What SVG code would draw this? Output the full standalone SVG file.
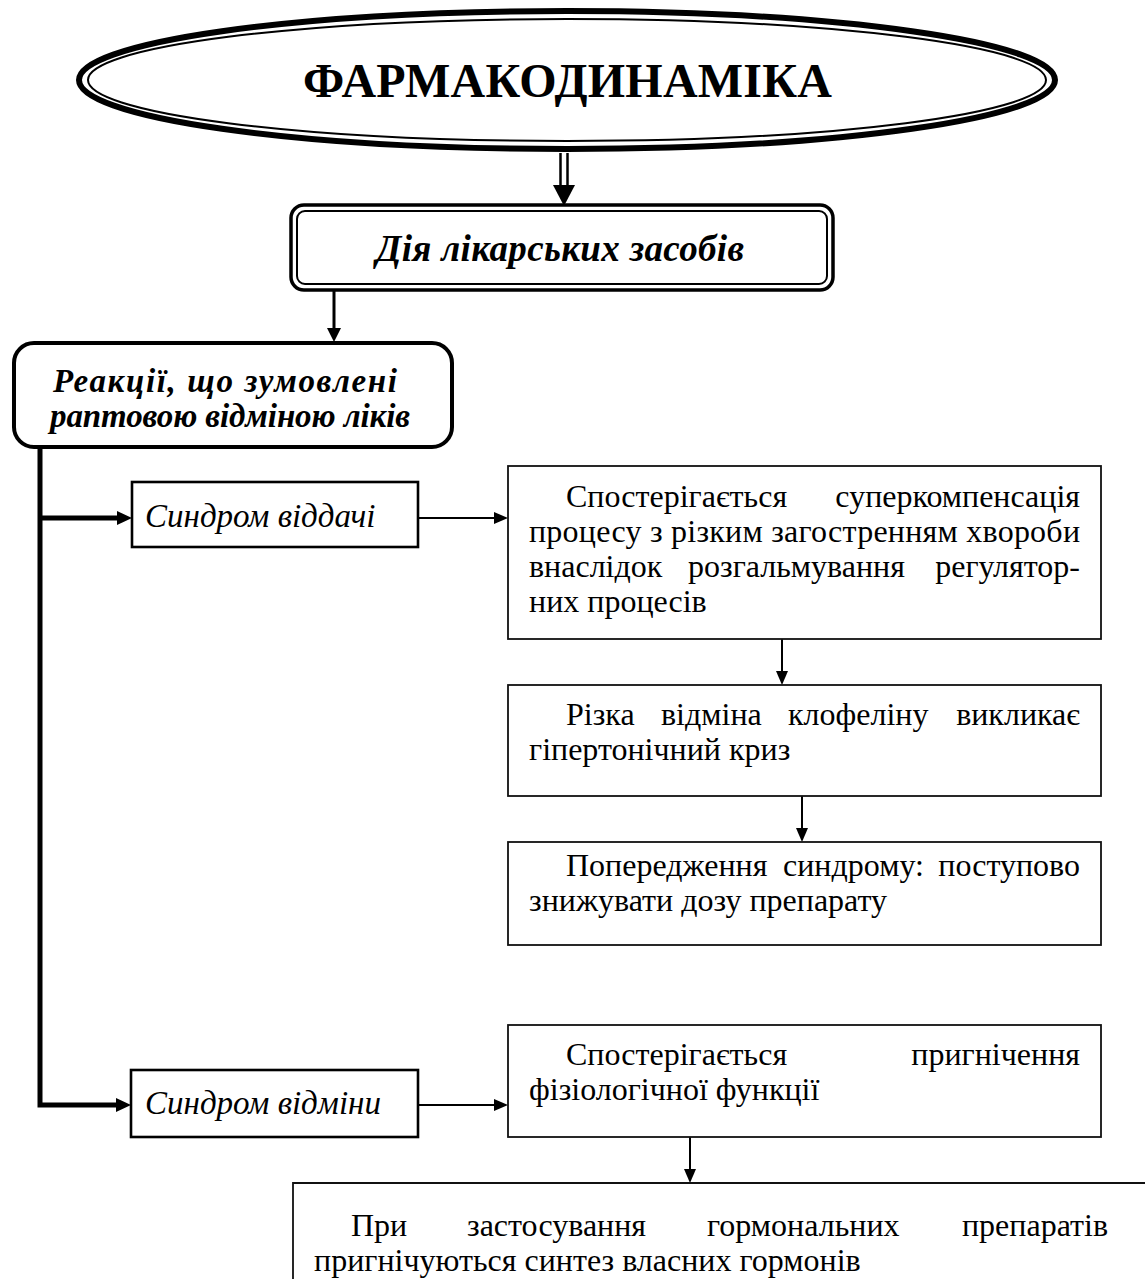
<svg xmlns="http://www.w3.org/2000/svg" width="1145" height="1279" viewBox="0 0 1145 1279">
  <style>
    .t { font-family: "Liberation Serif", "Times New Roman", serif; fill: #000; }
    .body { font-size: 32px; }
    .end { text-anchor: end; }
    .it { font-style: italic; }
    .bi { font-style: italic; font-weight: bold; }
    .box { fill: #fff; stroke: #111; stroke-width: 1.8; }
    .syn { fill: #fff; stroke: #000; stroke-width: 2.6; }
    .thin { fill: none; stroke: #000; stroke-width: 2; }
    .mid { fill: none; stroke: #000; stroke-width: 3; }
    .thick { fill: none; stroke: #000; stroke-width: 5; stroke-linejoin: miter; }
  </style>
  <defs>
    <!-- arrowheads: base sits on the path end, tip points forward -->
    <marker id="headThin" viewBox="0 0 14 12" refX="0" refY="6" markerWidth="14" markerHeight="12" markerUnits="userSpaceOnUse" orient="auto">
      <path d="M0,0 L14,6 L0,12 Z" fill="#000"/>
    </marker>
    <marker id="headMid" viewBox="0 0 14 14" refX="0" refY="7" markerWidth="14" markerHeight="14" markerUnits="userSpaceOnUse" orient="auto">
      <path d="M0,0 L14,7 L0,14 Z" fill="#000"/>
    </marker>
    <marker id="headThick" viewBox="0 0 15 14" refX="0" refY="7" markerWidth="15" markerHeight="14" markerUnits="userSpaceOnUse" orient="auto">
      <path d="M0,0 L15,7 L0,14 Z" fill="#000"/>
    </marker>
  </defs>

  <rect width="1145" height="1279" fill="#fff"/>

  <!-- connectors -->
  <g id="connectors">
    <!-- double-shaft arrow from the title -->
    <g id="c-title-action">
      <line x1="560.5" y1="153" x2="560.5" y2="186" stroke="#000" stroke-width="2.5"/>
      <line x1="567.5" y1="153" x2="567.5" y2="186" stroke="#000" stroke-width="2.5"/>
      <path d="M553,185 L575,185 L564,206 Z" fill="#000"/>
    </g>
    <path id="c-action-reactions" class="mid" d="M334,291 V328" marker-end="url(#headMid)"/>
    <path id="c-trunk-withdrawal" class="thick" d="M40,448 V1105 H116" marker-end="url(#headThick)"/>
    <path id="c-trunk-rebound" class="thick" d="M40,518 H117" marker-end="url(#headThick)"/>
    <path id="c-rebound-a" class="thin" d="M418,518 H494" marker-end="url(#headThin)"/>
    <path id="c-withdrawal-e" class="thin" d="M418,1105 H494" marker-end="url(#headThin)"/>
    <path id="c-a-b" class="thin" d="M782,639 V671" marker-end="url(#headThin)"/>
    <path id="c-b-c" class="thin" d="M802,796 V828" marker-end="url(#headThin)"/>
    <path id="c-e-f" class="thin" d="M690,1137 V1169" marker-end="url(#headThin)"/>
  </g>

  <!-- title ellipse with thick-thin border -->
  <g id="n-title">
    <ellipse cx="567" cy="80" rx="488" ry="69" fill="#fff" stroke="#000" stroke-width="6"/>
    <ellipse cx="567" cy="80" rx="479" ry="61" fill="none" stroke="#000" stroke-width="2"/>
    <text class="t" x="567.5" y="97" font-size="48" font-weight="bold" text-anchor="middle" textLength="529">ФАРМАКОДИНАМІКА</text>
  </g>

  <!-- drug action box, double rounded border -->
  <g id="n-action">
    <rect x="291" y="205" width="542" height="85" rx="13" fill="#fff" stroke="#000" stroke-width="3.5"/>
    <rect x="297" y="211" width="530" height="73" rx="8" fill="none" stroke="#000" stroke-width="2"/>
    <text class="t bi" x="560" y="261" font-size="37" text-anchor="middle" textLength="368">Дія лікарських засобів</text>
  </g>

  <!-- withdrawal reactions -->
  <g id="n-reactions">
    <rect x="14" y="343" width="438" height="104" rx="20" fill="#fff" stroke="#000" stroke-width="4"/>
    <text class="t bi" x="225" y="392" font-size="33" text-anchor="middle" textLength="344">Реакції, що зумовлені</text>
    <text class="t bi" x="230" y="427" font-size="33" text-anchor="middle" textLength="360">раптовою відміною ліків</text>
  </g>

  <g id="n-rebound">
    <rect class="syn" x="132" y="482" width="286" height="65"/>
    <text class="t it" x="145" y="527" font-size="33">Синдром віддачі</text>
  </g>

  <g id="n-withdrawal">
    <rect class="syn" x="131" y="1070" width="287" height="67"/>
    <text class="t it" x="145" y="1114" font-size="33">Синдром відміни</text>
  </g>

  <g id="n-supercomp">
    <rect class="box" x="508" y="466" width="593" height="173"/>
    <text class="t body" x="566" y="507">Спостерігається</text>
    <text class="t body end" x="1080" y="507">суперкомпенсація</text>
    <text class="t body" x="529" y="542" textLength="551">процесу з різким загостренням хвороби</text>
    <text class="t body" x="529" y="577">внаслідок</text>
    <text class="t body" x="688" y="577">розгальмування</text>
    <text class="t body end" x="1080" y="577">регулятор-</text>
    <text class="t body" x="529" y="612">них процесів</text>
  </g>

  <g id="n-clonidine">
    <rect class="box" x="508" y="685" width="593" height="111"/>
    <text class="t body" x="566" y="725">Різка</text>
    <text class="t body" x="661" y="725">відміна</text>
    <text class="t body" x="788" y="725">клофеліну</text>
    <text class="t body end" x="1080" y="725">викликає</text>
    <text class="t body" x="529" y="760">гіпертонічний криз</text>
  </g>

  <g id="n-prevention">
    <rect class="box" x="508" y="842" width="593" height="103"/>
    <text class="t body" x="566" y="876">Попередження</text>
    <text class="t body" x="783" y="876">синдрому:</text>
    <text class="t body end" x="1080" y="876">поступово</text>
    <text class="t body" x="529" y="911">знижувати дозу препарату</text>
  </g>

  <g id="n-suppression">
    <rect class="box" x="508" y="1025" width="593" height="112"/>
    <text class="t body" x="566" y="1065">Спостерігається</text>
    <text class="t body end" x="1080" y="1065">пригнічення</text>
    <text class="t body" x="529" y="1100">фізіологічної функції</text>
  </g>

  <g id="n-hormones">
    <path d="M293,1279 V1183 H1145" fill="none" stroke="#111" stroke-width="1.8"/>
    <text class="t body" x="351" y="1236">При</text>
    <text class="t body" x="467" y="1236">застосування</text>
    <text class="t body" x="707" y="1236">гормональних</text>
    <text class="t body end" x="1108" y="1236">препаратів</text>
    <text class="t body" x="314" y="1271">пригнічуються синтез власних гормонів</text>
  </g>
</svg>
